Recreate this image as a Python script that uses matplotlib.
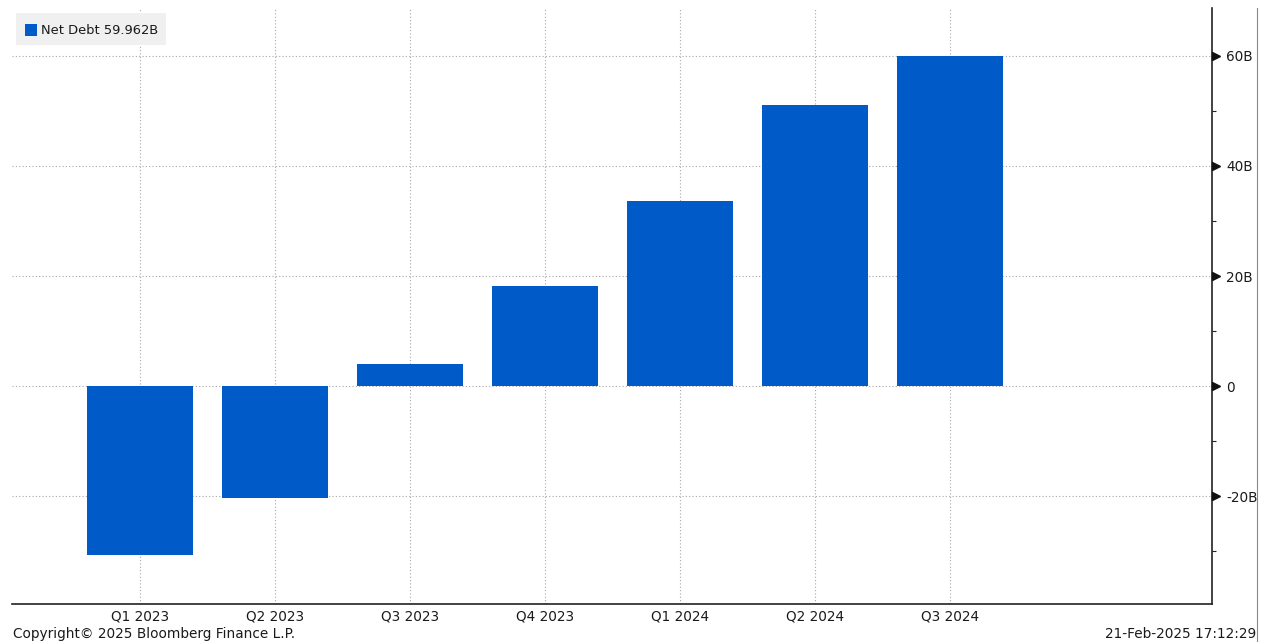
import matplotlib
matplotlib.use("Agg")
import matplotlib.pyplot as plt
from matplotlib.lines import Line2D
from matplotlib.patches import Rectangle
from matplotlib.ticker import FixedLocator, MultipleLocator
from matplotlib.transforms import ScaledTranslation

categories = ["Q1 2023", "Q2 2023", "Q3 2023", "Q4 2023", "Q1 2024", "Q2 2024", "Q3 2024"]
net_debt_b = [-30.7, -20.4, 4.0, 18.2, 33.6, 51.1, 59.962]
ytick_values = [-20, 0, 20, 40, 60]
ytick_labels = ["-20B", "0", "20B", "40B", "60B"]
legend_label = "Net Debt 59.962B"

BAR_COLOR = "#005BC9"
TXT = "#1a1a1a"
plt.rcParams["font.family"] = ["DejaVu Sans"]

fig = plt.figure(figsize=(12.65, 6.42), dpi=100)
ax = fig.add_axes([12/1265, 1-604/642, 1200/1265, 596/642])

x = list(range(len(categories)))
ax.bar(x, net_debt_b, width=0.785, color=BAR_COLOR, zorder=2)

ax.set_xlim(-0.948, 7.94)
ax.set_ylim(-39.6, 68.7)

ax.set_xticks(x)
ax.set_xticklabels(categories, fontsize=9.8, color=TXT)
ax.tick_params(axis="x", length=0, pad=4)

ax.yaxis.tick_right()
ax.yaxis.set_major_locator(FixedLocator(ytick_values))
ax.set_yticklabels(ytick_labels, fontsize=9.8, color=TXT)
ax.yaxis.set_minor_locator(MultipleLocator(10))
ax.tick_params(axis="y", which="major", length=0, pad=10)
ax.tick_params(axis="y", which="minor", length=3, width=0.8, direction="out", color="#222222")

# triangle markers at major ticks, just outside the right spine
offset = ScaledTranslation(3.5/100, 0, fig.dpi_scale_trans)
for v in ytick_values:
    ax.plot([1.0], [v], marker=">", markersize=5.5, color="#111111",
            transform=ax.get_yaxis_transform() + offset, clip_on=False, zorder=5)

ax.grid(True, which="major", color="#a8a8a8", linestyle=(0, (1, 2)), linewidth=0.8, zorder=0)
ax.set_axisbelow(True)

for s in ["left", "top"]:
    ax.spines[s].set_visible(False)
ax.spines["right"].set_linewidth(1.2)
ax.spines["bottom"].set_linewidth(1.2)
ax.spines["right"].set_color("#222222")
ax.spines["bottom"].set_color("#222222")

# legend box
fig.add_artist(Rectangle((16/1265, 1-45/642), 150/1265, 32/642, transform=fig.transFigure,
                         facecolor="#f0f0f0", edgecolor="none", zorder=3))
fig.add_artist(Rectangle((25/1265, 1-36/642), 12/1265, 12/642, transform=fig.transFigure,
                         facecolor=BAR_COLOR, edgecolor="none", zorder=4))
fig.text(41/1265, 1-30/642, legend_label, fontsize=9.4, color=TXT, va="center", ha="left", zorder=5)

# outer frame line at right
fig.add_artist(Line2D([1257/1265, 1257/1265], [0, 1-8/642], transform=fig.transFigure,
                      color="#888888", linewidth=0.8))

fig.text(13/1265, 1-634/642, "Copyright\u00a9 2025 Bloomberg Finance L.P.", fontsize=9.8,
         color=TXT, va="center", ha="left")
fig.text(1256/1265, 1-634/642, "21-Feb-2025 17:12:29", fontsize=9.8,
         color=TXT, va="center", ha="right")

fig.savefig("out.png", dpi=100, facecolor="white")
